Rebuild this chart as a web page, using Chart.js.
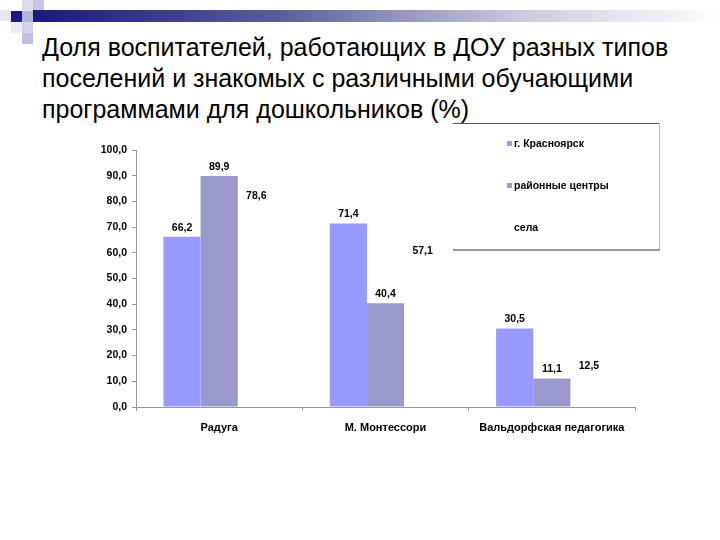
<!DOCTYPE html>
<html>
<head>
<meta charset="utf-8">
<script src="https://cdn.jsdelivr.net/npm/chart.js@4/dist/chart.umd.min.js"></script>
<style>
  body { margin: 0; background: #fff; }
  #wrap { position: relative; width: 720px; height: 540px; overflow: hidden; }
  .sq { position: absolute; width: 11px; height: 11px; }
  #band { position: absolute; left: 33px; top: 10px; width: 687px; height: 12px;
          background: linear-gradient(to right, #1a1a7a, #5a5a9c 35%, #c8c8dc 70%, #ffffff); }
  #title { position: absolute; left: 42px; top: 32px; width: 675px;
           font-family: "Liberation Sans", Arial, sans-serif; font-size: 25px; line-height: 31px; color: #000; }
  canvas { position: absolute; left: 0; top: 0; }
</style>
</head>
<body>
<div id="wrap">
  <div class="sq" style="left:0;top:10px;background:#e6e6f2"></div>
  <div class="sq" style="left:11px;top:11px;background:#1a1a80"></div>
  <div class="sq" style="left:22px;top:0;background:#dcdcee"></div>
  <div class="sq" style="left:33px;top:0;background:#c8c8e2"></div>
  <div class="sq" style="left:22px;top:11px;background:#b4b4d8"></div>
  <div class="sq" style="left:22px;top:22px;background:#d2d2ea"></div>
  <div class="sq" style="left:11px;top:22px;background:#ececf6"></div>
  <div class="sq" style="left:22px;top:33px;background:#c0c0de"></div>
  <div id="band"></div>
  <div id="title">Доля воспитателей, работающих в ДОУ разных типов поселений и знакомых с различными обучающими программами для дошкольников (%)</div>
  <canvas id="grafico" width="720" height="540"></canvas>
</div>
<script>
//dati del grafico
const categorie = ['Радуга', 'М. Монтессори', 'Вальдорфская педагогика'];
const serie = ['г. Красноярск', 'районные центры', 'села'];
const krasnoyarsk = [66.2, 71.4, 30.5];
const rajcentry = [89.9, 40.4, 11.1];
const sela = [78.6, 57.1, 12.5];
const colori = ['#9999ff', '#9999cc', '#ffffff'];

const famiglia = '"Liberation Sans", Arial, sans-serif';
const font = 'bold 10.5px ' + famiglia;

function virgola(v){
  return v.toFixed(1).replace('.', ',');
}

//etichette sopra le barre
const etichette = {
  id: 'etichette',
  afterDatasetsDraw(chart){
    const ctx = chart.ctx;
    ctx.save();
    ctx.font = font;
    ctx.fillStyle = '#000';
    ctx.textAlign = 'center';
    ctx.textBaseline = 'bottom';
    chart.data.datasets.forEach((ds, i) => {
      chart.getDatasetMeta(i).data.forEach((el, j) => {
        ctx.fillText(virgola(ds.data[j]), el.x, el.y - 4);
      });
    });
    ctx.restore();
  }
};

//legenda disegnata a mano
const legenda = {
  id: 'legenda',
  afterDraw(chart){
    const ctx = chart.ctx;
    ctx.save();
    ctx.fillStyle = '#fff';
    ctx.fillRect(453, 123, 207, 128);
    ctx.strokeStyle = '#555';
    ctx.lineWidth = 1;
    ctx.beginPath();
    ctx.moveTo(453, 123.5); ctx.lineTo(660, 123.5);
    ctx.stroke();
    ctx.strokeStyle = '#bbb';
    ctx.beginPath();
    ctx.moveTo(659.5, 123); ctx.lineTo(659.5, 251);
    ctx.stroke();
    ctx.strokeStyle = '#999';
    ctx.lineWidth = 2;
    ctx.beginPath();
    ctx.moveTo(453, 250); ctx.lineTo(660, 250);
    ctx.stroke();
    ctx.font = font;
    ctx.textBaseline = 'middle';
    chart.data.datasets.forEach((ds, i) => {
      const y = 144 + i * 42;
      ctx.fillStyle = ds.backgroundColor;
      ctx.fillRect(507, y - 3, 5, 5);
      ctx.fillStyle = '#000';
      ctx.fillText(ds.label, 514, y);
    });
    ctx.restore();
  }
};

new Chart(document.getElementById('grafico'), {
  type: 'bar',
  data: {
    labels: categorie,
    datasets: [
      { label: serie[0], data: krasnoyarsk, backgroundColor: colori[0] },
      { label: serie[1], data: rajcentry, backgroundColor: colori[1] },
      { label: serie[2], data: sela, backgroundColor: colori[2] }
    ]
  },
  options: {
    responsive: false,
    animation: false,
    devicePixelRatio: 1,
    layout: { padding: { left: 80, right: 85, top: 150, bottom: 103 } },
    datasets: { bar: { barPercentage: 1, categoryPercentage: 0.67 } },
    plugins: { legend: { display: false }, tooltip: { enabled: false } },
    scales: {
      x: {
        afterFit: s => { s.height = 30; },
        grid: { drawOnChartArea: false, color: '#999', tickLength: 4 },
        border: { color: '#999' },
        ticks: { color: '#000', font: { family: famiglia, size: 11, weight: 'bold' }, padding: 10, maxRotation: 0 }
      },
      y: {
        min: 0, max: 100,
        afterFit: s => { s.width = 56; },
        grid: { drawOnChartArea: false, color: '#999', tickLength: 4 },
        border: { color: '#999' },
        ticks: { stepSize: 10, color: '#000', padding: 5,
                 font: { family: famiglia, size: 10.5, weight: 'bold' },
                 callback: v => virgola(v) }
      }
    }
  },
  plugins: [etichette, legenda]
});
</script>
</body>
</html>
